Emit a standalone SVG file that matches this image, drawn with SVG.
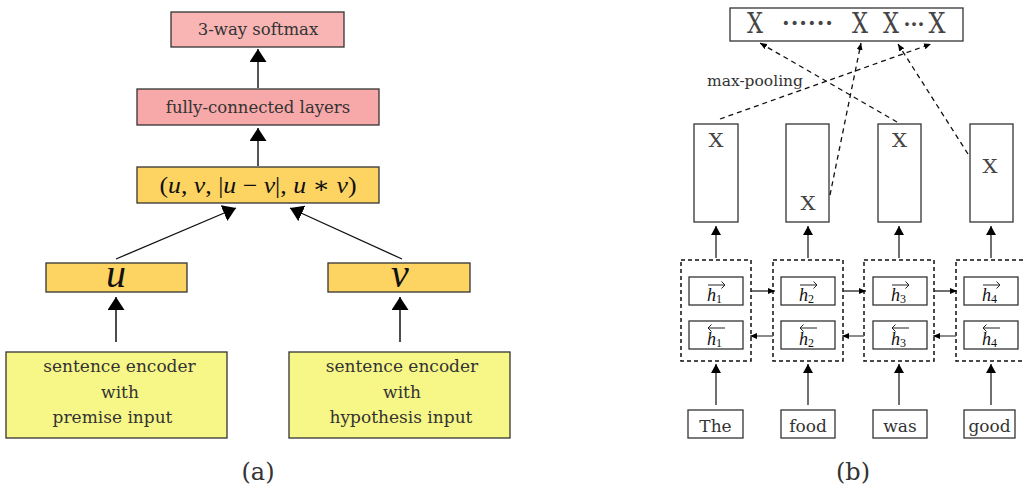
<svg xmlns="http://www.w3.org/2000/svg" width="1024" height="489" viewBox="0 0 1024 489">
<style>
.lbl{font-family:"DejaVu Serif","Liberation Serif",serif;fill:#333;text-anchor:middle}
.math{font-family:"Liberation Serif","DejaVu Serif",serif;fill:#111}
.mi{font-style:italic}
.box{stroke:#333;stroke-width:1.3}
.wbox{fill:#fff;stroke:#333;stroke-width:1.3}
.dash{fill:none;stroke:#111;stroke-width:1.3;stroke-dasharray:5,4}
.grp{fill:none;stroke:#111;stroke-width:1.5;stroke-dasharray:4,3}
.x{font-family:"DejaVu Serif","Liberation Serif",serif;fill:#444;text-anchor:middle}
.hv{fill:none;stroke:#222;stroke-width:1}
</style>
<defs>
<marker id="big" markerUnits="userSpaceOnUse" markerWidth="14" markerHeight="18" refX="13" refY="8.5" orient="auto"><path d="M0,0 L13,8.5 L0,17 z" fill="#000"/></marker>
<marker id="mid" markerUnits="userSpaceOnUse" markerWidth="10" markerHeight="11" refX="9" refY="5" orient="auto"><path d="M0,0 L9,5 L0,10 z" fill="#000"/></marker>
<marker id="sm" markerUnits="userSpaceOnUse" markerWidth="8" markerHeight="7" refX="7" refY="3" orient="auto"><path d="M0,0 L7,3 L0,6 z" fill="#000"/></marker>
<path id="arrR" class="hv" d="M-8,0 H9 M5.5,-3.5 L9,0 L5.5,3.5"/>
<path id="arrL" class="hv" d="M9,0 H-8 M-4.5,-3.5 L-8,0 L-4.5,3.5"/>
</defs>

<!-- Panel (a) -->
<g id="softmax"><rect class="box" x="171" y="12" width="173" height="35" fill="#f8b5b4"/><text class="lbl" x="258" y="35" font-size="16.5">3-way softmax</text></g>
<g id="fc"><rect class="box" x="137" y="89" width="242" height="36" fill="#f7a8a8"/><text class="lbl" x="258" y="113" font-size="16.5">fully-connected layers</text></g>
<g id="concat"><rect class="box" x="137" y="167" width="242" height="36" fill="#fdd462"/>
<text class="math" x="258" y="193" font-size="23" text-anchor="middle" textLength="197" lengthAdjust="spacingAndGlyphs">(<tspan class="mi">u</tspan>, <tspan class="mi">v</tspan>, |<tspan class="mi">u</tspan> − <tspan class="mi">v</tspan>|, <tspan class="mi">u</tspan> ∗ <tspan class="mi">v</tspan>)</text></g>
<g id="u"><rect class="box" x="46" y="263" width="141" height="29" fill="#fdd462"/><text class="math mi" x="116" y="287" font-size="40" text-anchor="middle">u</text></g>
<g id="v"><rect class="box" x="328" y="263" width="142" height="29" fill="#fdd462"/><text class="math mi" x="400" y="287" font-size="40" text-anchor="middle">v</text></g>
<g id="enc1"><rect class="box" x="6" y="352" width="221" height="86" fill="#f7f788"/>
<text class="lbl" font-size="17"><tspan x="119.5" y="372">sentence encoder</tspan><tspan x="120" y="398">with</tspan><tspan x="112.5" y="423">premise input</tspan></text></g>
<g id="enc2"><rect class="box" x="289" y="352" width="221" height="86" fill="#f7f788"/>
<text class="lbl" font-size="17"><tspan x="402" y="372">sentence encoder</tspan><tspan x="402" y="398">with</tspan><tspan x="401" y="423">hypothesis input</tspan></text></g>
<text class="lbl" x="258" y="480" font-size="24" fill="#000">(a)</text>

<g id="connectors-a">
<line x1="258" y1="88" x2="258" y2="49" stroke="#555" stroke-width="2" marker-end="url(#big)"/>
<line x1="258" y1="166" x2="258" y2="128" stroke="#555" stroke-width="2" marker-end="url(#big)"/>
<line x1="116" y1="259" x2="236" y2="208" stroke="#111" stroke-width="1.3" marker-end="url(#big)"/>
<line x1="402" y1="259" x2="290" y2="208" stroke="#111" stroke-width="1.3" marker-end="url(#big)"/>
<line x1="116" y1="342" x2="116" y2="297" stroke="#111" stroke-width="1.5" marker-end="url(#big)"/>
<line x1="400" y1="342" x2="400" y2="297" stroke="#111" stroke-width="1.5" marker-end="url(#big)"/>
</g>

<!-- Panel (b) -->
<g id="pooled"><rect class="wbox" x="730" y="8" width="233" height="33"/>
<text class="x" x="755" y="33" font-size="27" textLength="16" lengthAdjust="spacingAndGlyphs">X</text>
<text class="x" x="808" y="31" font-size="22" font-weight="bold" letter-spacing="1">······</text>
<text class="x" x="860" y="33" font-size="27" textLength="16" lengthAdjust="spacingAndGlyphs">X</text>
<text class="x" x="891" y="33" font-size="27" textLength="16" lengthAdjust="spacingAndGlyphs">X</text>
<text class="x" x="914" y="31" font-size="20" font-weight="bold">···</text>
<text class="x" x="937" y="33" font-size="27" textLength="17" lengthAdjust="spacingAndGlyphs">X</text>
</g>
<text class="lbl" x="755" y="86" font-size="15.5" fill="#444">max-pooling</text>

<g id="col1"><rect class="wbox" x="694" y="124" width="44" height="98"/><text class="x" x="716" y="147" font-size="19" textLength="15" lengthAdjust="spacingAndGlyphs">X</text></g>
<g id="col2"><rect class="wbox" x="786" y="124" width="43" height="98"/><text class="x" x="808" y="210" font-size="19" textLength="15" lengthAdjust="spacingAndGlyphs">X</text></g>
<g id="col3"><rect class="wbox" x="878" y="124" width="43" height="98"/><text class="x" x="899.5" y="147" font-size="19" textLength="15" lengthAdjust="spacingAndGlyphs">X</text></g>
<g id="col4"><rect class="wbox" x="970" y="124" width="43" height="98"/><text class="x" x="990" y="173" font-size="19" textLength="15" lengthAdjust="spacingAndGlyphs">X</text></g>

<g id="bi1"><rect class="grp" x="681" y="260" width="70" height="101"/>
<rect class="wbox" x="689" y="277" width="54" height="28"/><rect class="wbox" x="689" y="321" width="54" height="28"/>
<use href="#arrR" x="716" y="285"/><text class="math mi" x="707" y="301" font-size="18">h<tspan font-style="normal" font-size="12" dy="2">1</tspan></text>
<use href="#arrL" x="716" y="328"/><text class="math mi" x="707" y="345" font-size="18">h<tspan font-style="normal" font-size="12" dy="2">1</tspan></text></g>
<g id="bi2"><rect class="grp" x="773" y="260" width="70" height="101"/>
<rect class="wbox" x="781" y="277" width="54" height="28"/><rect class="wbox" x="781" y="321" width="54" height="28"/>
<use href="#arrR" x="808" y="285"/><text class="math mi" x="799" y="301" font-size="18">h<tspan font-style="normal" font-size="12" dy="2">2</tspan></text>
<use href="#arrL" x="808" y="328"/><text class="math mi" x="799" y="345" font-size="18">h<tspan font-style="normal" font-size="12" dy="2">2</tspan></text></g>
<g id="bi3"><rect class="grp" x="864" y="260" width="70" height="101"/>
<rect class="wbox" x="873" y="277" width="54" height="28"/><rect class="wbox" x="873" y="321" width="54" height="28"/>
<use href="#arrR" x="900" y="285"/><text class="math mi" x="891" y="301" font-size="18">h<tspan font-style="normal" font-size="12" dy="2">3</tspan></text>
<use href="#arrL" x="900" y="328"/><text class="math mi" x="891" y="345" font-size="18">h<tspan font-style="normal" font-size="12" dy="2">3</tspan></text></g>
<g id="bi4"><rect class="grp" x="956" y="260" width="70" height="101"/>
<rect class="wbox" x="964" y="277" width="54" height="28"/><rect class="wbox" x="964" y="321" width="54" height="28"/>
<use href="#arrR" x="991" y="285"/><text class="math mi" x="982" y="301" font-size="18">h<tspan font-style="normal" font-size="12" dy="2">4</tspan></text>
<use href="#arrL" x="991" y="328"/><text class="math mi" x="982" y="345" font-size="18">h<tspan font-style="normal" font-size="12" dy="2">4</tspan></text></g>

<g id="w1"><rect class="wbox" x="688" y="410" width="55" height="28"/><text class="lbl" x="715.5" y="432" font-size="17">The</text></g>
<g id="w2"><rect class="wbox" x="781" y="410" width="54" height="28"/><text class="lbl" x="808" y="432" font-size="17">food</text></g>
<g id="w3"><rect class="wbox" x="873" y="410" width="54" height="28"/><text class="lbl" x="900" y="432" font-size="17">was</text></g>
<g id="w4"><rect class="wbox" x="964" y="410" width="51" height="28" stroke-width="1.7"/><text class="lbl" x="989.5" y="432" font-size="17">good</text></g>
<text class="lbl" x="853" y="480" font-size="24" fill="#000">(b)</text>

<g id="connectors-b">
<line class="dash" x1="720" y1="119" x2="931" y2="44" marker-end="url(#sm)"/>
<line class="dash" x1="830" y1="195" x2="861" y2="43" marker-end="url(#sm)"/>
<line class="dash" x1="897" y1="122" x2="760" y2="43" marker-end="url(#sm)"/>
<line class="dash" x1="968" y1="154" x2="898" y2="44" marker-end="url(#sm)"/>
<g stroke="#222" stroke-width="1.3">
<line x1="716" y1="258" x2="716" y2="226" marker-end="url(#mid)"/>
<line x1="808" y1="258" x2="808" y2="226" marker-end="url(#mid)"/>
<line x1="899" y1="258" x2="899" y2="226" marker-end="url(#mid)"/>
<line x1="991" y1="258" x2="991" y2="226" marker-end="url(#mid)"/>
<line x1="716" y1="405" x2="716" y2="364" marker-end="url(#mid)"/>
<line x1="808" y1="405" x2="808" y2="364" marker-end="url(#mid)"/>
<line x1="899" y1="405" x2="899" y2="364" marker-end="url(#mid)"/>
<line x1="991" y1="405" x2="991" y2="364" marker-end="url(#mid)"/>
<line x1="751" y1="291" x2="775" y2="291" marker-end="url(#sm)"/>
<line x1="843" y1="291" x2="866" y2="291" marker-end="url(#sm)"/>
<line x1="934" y1="291" x2="957" y2="291" marker-end="url(#sm)"/>
</g>
<g stroke="#666" stroke-width="1.5">
<line x1="773" y1="336" x2="750" y2="336" marker-end="url(#sm)"/>
<line x1="864" y1="336" x2="842" y2="336" marker-end="url(#sm)"/>
<line x1="956" y1="336" x2="933" y2="336" marker-end="url(#sm)"/>
</g>
</g>
</svg>
